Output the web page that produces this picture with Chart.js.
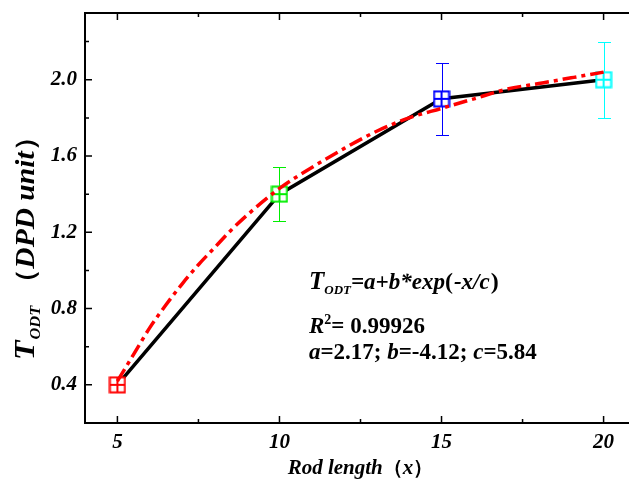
<!DOCTYPE html>
<html>
<head>
<meta charset="utf-8">
<style>
html,body{margin:0;padding:0;background:#fff;overflow:hidden;}
#wrap{width:629px;height:479px;overflow:hidden;position:relative;}
canvas{display:block;}
</style>
<script src="https://cdn.jsdelivr.net/npm/chart.js@4.4.1/dist/chart.umd.min.js"></script>
</head>
<body>
<div id="wrap"><canvas id="c" width="650" height="479"></canvas></div>
<script>
// ---- data ----
const rodLength = [5, 10, 15, 20];
const todt = [0.40, 1.40, 1.90, 2.00];
const errLow = [0.40, 1.26, 1.71, 1.80];
const errHigh = [0.40, 1.54, 2.09, 2.20];
const markerColors = ['#ff0000', '#00ee00', '#0000ff', '#00ffff'];
const fitX = [5, 5.5, 6, 6.5, 7, 7.5, 8, 8.5, 9, 10, 11, 12, 13, 14, 15, 16, 17, 18, 19, 20];
const fitY = [0.42, 0.56, 0.70, 0.82, 0.93, 1.03, 1.12, 1.21, 1.29, 1.43, 1.54, 1.64, 1.73, 1.80, 1.85, 1.90, 1.95, 1.98, 2.01, 2.04];
const xTicks = [5, 10, 15, 20];
const xMinor = [7.5, 12.5, 17.5];
const yTicks = [0.4, 0.8, 1.2, 1.6, 2.0];
const yMinor = [0.6, 1.0, 1.4, 1.8, 2.2];

const SERIF = '"Liberation Serif", "Times New Roman", serif';
const BI = s => 'bold italic ' + s + 'px ' + SERIF;
const B = s => 'bold ' + s + 'px ' + SERIF;

function makeMarker(color) {
  const c = document.createElement('canvas');
  c.width = 18; c.height = 18;
  const g = c.getContext('2d');
  g.fillStyle = '#fff';
  g.fillRect(1, 1, 16, 16);
  g.strokeStyle = color; g.lineWidth = 2;
  g.strokeRect(1.5, 1.5, 15, 15);
  g.beginPath();
  g.moveTo(9, 2); g.lineTo(9, 16);
  g.moveTo(2, 9); g.lineTo(16, 9);
  g.stroke();
  return c;
}
const markers = markerColors.map(makeMarker);

function drawRuns(ctx, x, y, runs) {
  let cx = x;
  for (const r of runs) {
    ctx.font = r.font;
    ctx.fillText(r.t, cx, y + (r.dy || 0));
    cx += ctx.measureText(r.t).width + (r.sp || 0);
  }
  return cx - x;
}
function runsWidth(ctx, runs) {
  let w = 0;
  for (const r of runs) { ctx.font = r.font; w += ctx.measureText(r.t).width + (r.sp || 0); }
  return w;
}

const errorBars = {
  id: 'errorBars',
  beforeDatasetsDraw(chart) {
    const ctx = chart.ctx, xs = chart.scales.x, ys = chart.scales.y;
    ctx.save();
    ctx.lineWidth = 1;
    rodLength.forEach((xv, i) => {
      if (errHigh[i] - errLow[i] < 0.01) return;
      const px = Math.round(xs.getPixelForValue(xv));
      const y1 = Math.round(ys.getPixelForValue(errHigh[i]));
      const y2 = Math.round(ys.getPixelForValue(errLow[i]));
      ctx.strokeStyle = markerColors[i];
      ctx.beginPath();
      ctx.moveTo(px + 0.5, y1); ctx.lineTo(px + 0.5, y2);
      ctx.moveTo(px - 6, y1 + 0.5); ctx.lineTo(px + 7, y1 + 0.5);
      ctx.moveTo(px - 6, y2 + 0.5); ctx.lineTo(px + 7, y2 + 0.5);
      ctx.stroke();
    });
    ctx.restore();
  }
};

const frame = {
  id: 'frame',
  afterDraw(chart) {
    const ctx = chart.ctx, a = chart.chartArea, xs = chart.scales.x, ys = chart.scales.y;
    ctx.save();
    ctx.strokeStyle = '#000';
    ctx.lineWidth = 2;
    ctx.strokeRect(a.left, a.top, a.right - a.left, a.bottom - a.top);
    ctx.lineWidth = 1.5;
    ctx.beginPath();
    const tx = (v, len) => {
      const p = xs.getPixelForValue(v);
      ctx.moveTo(p, a.bottom); ctx.lineTo(p, a.bottom - len);
      ctx.moveTo(p, a.top); ctx.lineTo(p, a.top + len);
    };
    const ty = (v, len) => {
      const p = ys.getPixelForValue(v);
      ctx.moveTo(a.left, p); ctx.lineTo(a.left + len, p);
      ctx.moveTo(a.right, p); ctx.lineTo(a.right - len, p);
    };
    xTicks.forEach(v => tx(v, 7)); xMinor.forEach(v => tx(v, 4));
    yTicks.forEach(v => ty(v, 7)); yMinor.forEach(v => ty(v, 4));
    ctx.stroke();

    // axis titles
    ctx.fillStyle = '#000';
    ctx.textBaseline = 'alphabetic';
    const xRuns = [{t: 'Rod length', font: BI(21)}, {t: '（', font: B(20)}, {t: 'x', font: BI(21)}, {t: '）', font: B(20)}];
    const xw = runsWidth(ctx, xRuns);
    drawRuns(ctx, (a.left + a.right) / 2 - xw / 2, 474, xRuns);

    ctx.save();
    ctx.translate(34, 241.5);
    ctx.rotate(-Math.PI / 2);
    const yRuns = [{t: 'T', font: BI(29), sp: 1}, {t: 'ODT', font: BI(15), dy: 6, sp: 8}, {t: '（', font: B(26)}, {t: 'DPD unit', font: BI(27)}, {t: '）', font: B(26)}];
    const yw = runsWidth(ctx, yRuns);
    const k = 237 / yw;
    ctx.scale(k, 1);
    drawRuns(ctx, -yw / 2, 0, yRuns);
    ctx.restore();

    // annotation
    drawRuns(ctx, 309, 289, [
      {t: 'T', font: BI(25)}, {t: 'ODT', font: BI(13), dy: 5},
      {t: '=a+b*exp', font: BI(23)}, {t: '(', font: B(24), sp: 1}, {t: '-x/c', font: BI(23), sp: 1}, {t: ')', font: B(24)}
    ]);
    drawRuns(ctx, 309, 333, [
      {t: 'R', font: BI(23)}, {t: '2', font: B(14), dy: -9}, {t: '= 0.99926', font: B(23)}
    ]);
    drawRuns(ctx, 309, 359, [
      {t: 'a', font: BI(23)}, {t: '=2.17; ', font: B(23)},
      {t: 'b', font: BI(23)}, {t: '=-4.12; ', font: B(23)},
      {t: 'c', font: BI(23)}, {t: '=5.84', font: B(23)}
    ]);
    ctx.restore();
  }
};

new Chart(document.getElementById('c'), {
  type: 'line',
  data: {
    datasets: [
      {
        label: 'fit',
        data: fitX.map((x, i) => ({x, y: fitY[i]})),
        borderColor: '#ff0000',
        borderWidth: 3.5,
        borderDash: [14, 5, 4, 5],
        pointRadius: 0,
        cubicInterpolationMode: 'monotone',
        fill: false,
        order: 0
      },
      {
        label: 'TODT',
        data: rodLength.map((x, i) => ({x, y: todt[i]})),
        borderColor: '#000',
        borderWidth: 3.5,
        tension: 0,
        pointStyle: markers,
        pointRadius: 9,
        fill: false,
        order: 1
      }
    ]
  },
  options: {
    responsive: false,
    animation: false,
    devicePixelRatio: 1,
    layout: {autoPadding: false, padding: {top: 13, right: 14, left: 0, bottom: 0}},
    plugins: {legend: {display: false}, tooltip: {enabled: false}},
    scales: {
      x: {
        type: 'linear', min: 4, max: 21,
        grid: {display: false, drawTicks: false}, border: {display: false},
        afterBuildTicks: s => { s.ticks = xTicks.map(v => ({value: v})); },
        afterFit: s => { s.height = 56; s.paddingLeft = 0; s.paddingRight = 0; },
        ticks: {font: {family: SERIF, size: 21, style: 'italic', weight: 'bold'}, color: '#000', padding: 7, maxRotation: 0,
          callback: v => String(v)}
      },
      y: {
        type: 'linear', min: 0.2, max: 2.35,
        grid: {display: false, drawTicks: false}, border: {display: false},
        afterBuildTicks: s => { s.ticks = yTicks.map(v => ({value: v})); },
        afterFit: s => { s.width = 85; s.paddingTop = 0; s.paddingBottom = 0; },
        ticks: {font: {family: SERIF, size: 21, style: 'italic', weight: 'bold'}, color: '#000', padding: 8,
          callback: v => Number(v).toFixed(1)}
      }
    }
  },
  plugins: [errorBars, frame]
});
</script>
</body>
</html>
